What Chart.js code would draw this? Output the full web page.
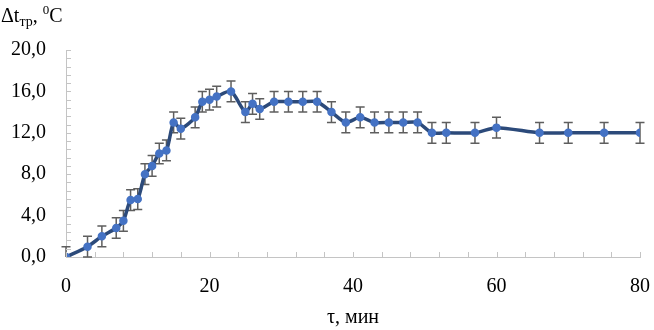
<!DOCTYPE html>
<html>
<head>
<meta charset="utf-8">
<script src="https://cdn.jsdelivr.net/npm/chart.js@4.4.0/dist/chart.umd.min.js"></script>
<style>
  html, body { margin: 0; padding: 0; background: #fff; }
  #wrap { position: relative; width: 654px; height: 330px; }
</style>
</head>
<body>
<div id="wrap"><canvas id="chart" width="654" height="330"></canvas></div>
<script>
// data
const timeMin = [0, 3, 5, 7, 8, 9, 10, 11, 12, 13, 14, 15, 16, 18, 19, 20, 21, 23, 25, 26, 27, 29, 31, 33, 35, 37, 39, 41, 43, 45, 47, 49, 51, 53, 57, 60, 66, 70, 75, 80];
const deltaT = [0, 1, 2, 2.8, 3.5, 5.5, 5.6, 8, 8.8, 10, 10.3, 13, 12.4, 13.5, 15, 15.2, 15.5, 16, 14, 14.8, 14.3, 15, 15, 15, 15, 14, 13, 13.5, 13, 13, 13, 13, 12, 12, 12, 12.5, 12, 12, 12, 12];
const errBar = [1, 1, 1, 1, 1, 1, 1, 1, 1, 1, 1, 1, 1, 1, 1, 1, 1, 1, 1, 1, 1, 1, 1, 1, 1, 1, 1, 1, 1, 1, 1, 1, 1, 1, 1, 1, 1, 1, 1, 1];
const xTicks = [0, 20, 40, 60, 80];
const yTicks = [0, 4, 8, 12, 16, 20];

const fontFam = '"Times New Roman", "Liberation Serif", serif';

const points = timeMin.map((t, i) => ({ x: t, y: deltaT[i] }));

// error bars under the line
const errorBars = {
    id: 'errorBars',
    beforeDatasetsDraw(chart) {
        const { ctx, scales: { x, y } } = chart;
        ctx.save();
        ctx.strokeStyle = '#5e5e5e';
        ctx.lineWidth = 1.5;
        timeMin.forEach((t, i) => {
            const px = x.getPixelForValue(t);
            const top = y.getPixelForValue(deltaT[i] + errBar[i]);
            const bot = y.getPixelForValue(Math.max(0, deltaT[i] - errBar[i]));
            ctx.beginPath();
            ctx.moveTo(px, top); ctx.lineTo(px, bot);
            ctx.moveTo(px - 4.5, top); ctx.lineTo(px + 4.5, top);
            if (deltaT[i] - errBar[i] >= 0) { ctx.moveTo(px - 4.5, bot); ctx.lineTo(px + 4.5, bot); }
            ctx.stroke();
        });
        ctx.restore();
    }
};

// inward minor ticks + the y title with sub/superscript
const axisExtras = {
    id: 'axisExtras',
    afterDraw(chart) {
        const { ctx, chartArea: a, scales: { x, y } } = chart;
        ctx.save();
        ctx.strokeStyle = '#c4c4c4';
        ctx.lineWidth = 1;
        ctx.beginPath();
        for (let v = x.min; v <= x.max + 0.001; v += 4) {
            const px = Math.round(x.getPixelForValue(v)) + 0.5;
            ctx.moveTo(px, a.bottom); ctx.lineTo(px, a.bottom - 5);
        }
        for (let v = y.min; v <= y.max + 0.001; v += 0.8) {
            const py = Math.round(y.getPixelForValue(v)) + 0.5;
            ctx.moveTo(a.left, py); ctx.lineTo(a.left + 5, py);
        }
        ctx.stroke();

        ctx.fillStyle = '#000';
        ctx.textBaseline = 'alphabetic';
        let cx = 1;
        const base = 22;
        ctx.font = '20px ' + fontFam;
        ctx.fillText('Δt', cx, base); cx += ctx.measureText('Δt').width;
        ctx.font = '14px ' + fontFam;
        ctx.fillText('тр', cx, base + 4); cx += ctx.measureText('тр').width;
        ctx.font = '20px ' + fontFam;
        ctx.fillText(', ', cx, base); cx += ctx.measureText(', ').width;
        ctx.font = '13px ' + fontFam;
        ctx.fillText('0', cx, base - 8); cx += ctx.measureText('0').width;
        ctx.font = '20px ' + fontFam;
        ctx.fillText('C', cx, base);
        ctx.restore();
    }
};

new Chart(document.getElementById('chart'), {
    type: 'line',
    data: {
        datasets: [{
            data: points,
            borderColor: '#2c4a7a',
            borderWidth: 3.5,
            backgroundColor: '#4472c4',
            pointBackgroundColor: '#4472c4',
            pointBorderColor: '#4472c4',
            pointRadius: 2.5,
            tension: 0.25,
            fill: false
        }]
    },
    options: {
        responsive: false,
        animation: false,
        layout: { padding: { top: 50, right: 14, left: 0, bottom: 0 } },
        plugins: { legend: { display: false }, tooltip: { enabled: false } },
        scales: {
            x: {
                type: 'linear',
                min: 0, max: 80,
                afterBuildTicks: s => { s.ticks = xTicks.map(v => ({ value: v })); },
                afterFit: s => { s.height = 73; s.paddingRight = 0; s.paddingLeft = 0; },
                grid: { display: false, drawTicks: false },
                border: { color: '#c4c4c4', width: 1 },
                ticks: { color: '#000', padding: 18, font: { family: fontFam, size: 20 } },
                title: { display: true, text: 'τ, мин', color: '#000', padding: { top: 4, bottom: 0 }, font: { family: fontFam, size: 20 } }
            },
            y: {
                min: 0, max: 20,
                afterBuildTicks: s => { s.ticks = yTicks.map(v => ({ value: v })); },
                afterFit: s => { s.width = 66; },
                grid: { display: false, drawTicks: false },
                border: { color: '#c4c4c4', width: 1 },
                ticks: {
                    color: '#000', padding: 20,
                    font: { family: fontFam, size: 20 },
                    callback: v => v.toFixed(1).replace('.', ',')
                }
            }
        }
    },
    plugins: [errorBars, axisExtras]
});
</script>
</body>
</html>
